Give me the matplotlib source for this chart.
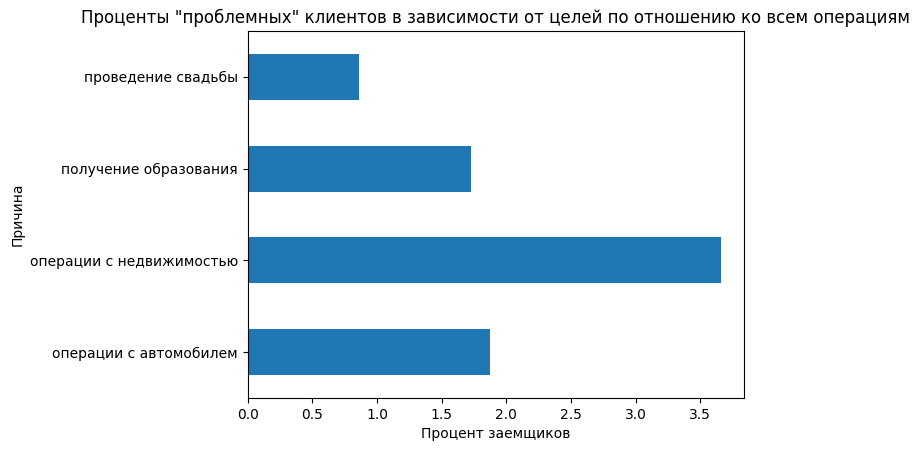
import matplotlib
matplotlib.use("Agg")
import matplotlib.pyplot as plt

categories = ["операции с автомобилем", "операции с недвижимостью", "получение образования", "проведение свадьбы"]
values = [1.874, 3.656, 1.727, 0.860]

fig = plt.figure(figsize=(9.21, 4.54), dpi=100)
ax = fig.add_axes([0.269, 0.123, 0.539, 0.809])
ax.barh(range(len(categories)), values, height=0.5, color="#1f77b4")
ax.set_yticks(range(len(categories)))
ax.set_yticklabels(categories)
ax.set_ylim(-0.5, len(categories) - 0.5)
ax.set_xlim(0, max(values) * 1.05)
ax.set_xlabel("Процент заемщиков")
ax.set_ylabel("Причина")
ax.set_title('Проценты "проблемных" клиентов в зависимости от целей по отношению ко всем операциям')
fig.savefig("out.png", dpi=100)
